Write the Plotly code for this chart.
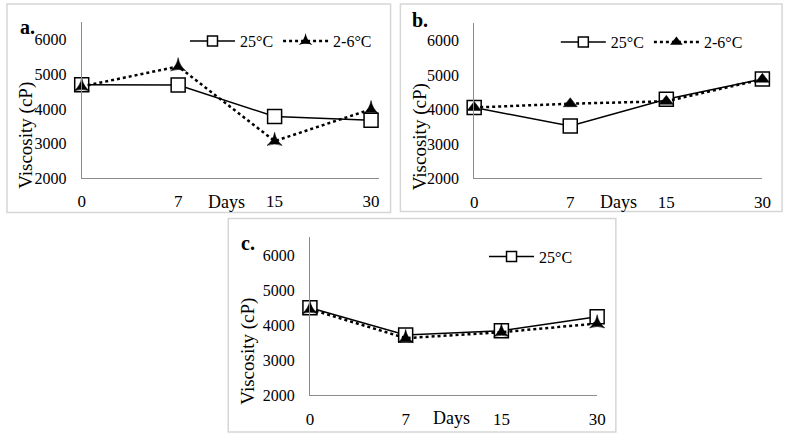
import plotly.graph_objects as go

# ---- data ----
days = ["0", "7", "15", "30"]
a_25 = [4700, 4690, 3780, 3670]
a_cold = [4650, 5230, 3070, 3990]
b_25 = [4060, 3520, 4300, 4890]
b_cold = [4060, 4170, 4240, 4880]
c_25 = [4500, 3720, 3840, 4240]
c_cold = [4460, 3630, 3800, 4050]
yticks = [2000, 3000, 4000, 5000, 6000]
panel_labels = ["a.", "b.", "c."]
series_names = ["25°C", "2-6°C"]

W, H = 795, 444
FONT = "Liberation Serif"


def px(x):
    return x / W


def py(y):
    return 1 - y / H


fig = go.Figure()

panels = [
    # (xaxis, yaxis, legend, s25, scold, cold_symbol, x0, x1, ytop, ybot, xmax, cold_in_legend)
    ("x", "y", "legend", a_25, a_cold, "star-triangle-up", 79, 381, 22, 181.7, 3.08, True),
    ("x2", "y2", "legend2", b_25, b_cold, "triangle-up", 478, 771, 23, 182, 3.0, True),
    ("x3", "y3", "legend3", c_25, c_cold, "star-triangle-up", 311, 603, 241.7, 403.3, 3.0, False),
]

for i, (xa, ya, lg, s25, scold, csym, x0, x1, yt, yb, xmax, cold_leg) in enumerate(panels):
    fig.add_trace(go.Scatter(
        x=days, y=s25, xaxis=xa, yaxis=ya, mode="lines+markers",
        line=dict(color="black", width=1.5),
        marker=dict(symbol="square", size=14, color="white", line=dict(color="black", width=1.5)),
        cliponaxis=False, showlegend=False,
    ))
    fig.add_trace(go.Scatter(
        x=days, y=scold, xaxis=xa, yaxis=ya, mode="lines+markers",
        line=dict(color="black", width=2.5, dash="dot"),
        marker=dict(symbol=csym, size=11 if csym != "triangle-up" else 12, color="black",
                    line=dict(color="black", width=0.5)),
        cliponaxis=False, showlegend=False,
    ))
    # legend entries (smaller markers, as in the reference)
    fig.add_trace(go.Scatter(
        x=[None], y=[None], xaxis=xa, yaxis=ya, mode="lines+markers", name=series_names[0],
        line=dict(color="black", width=1.5),
        marker=dict(symbol="square", size=10, color="white", line=dict(color="black", width=1.5)),
        legend=lg, showlegend=True,
    ))
    if cold_leg:
        fig.add_trace(go.Scatter(
            x=[None], y=[None], xaxis=xa, yaxis=ya, mode="lines+markers", name=series_names[1],
            line=dict(color="black", width=2.5, dash="dot"),
            marker=dict(symbol=csym, size=10 if csym != "triangle-up" else 11, color="black"),
            legend=lg, showlegend=True,
        ))

    sfx = "" if i == 0 else str(i + 1)
    fig.layout["xaxis" + sfx] = dict(
        domain=[px(x0), px(x1)], anchor=ya, type="category", range=[0, xmax],
        showline=True, linecolor="#8c8c8c", linewidth=1, showgrid=False, zeroline=False,
        ticks="", ticklabelstandoff=8, tickfont=dict(family=FONT, size=17, color="black"),
    )
    fig.layout["yaxis" + sfx] = dict(
        domain=[py(yb), py(yt)], anchor=xa, range=[2000, 6530],
        tickvals=yticks, showline=True, linecolor="#8c8c8c", linewidth=1,
        showgrid=False, zeroline=False, ticks="", ticklabelstandoff=11,
        tickfont=dict(family=FONT, size=16, color="black"),
    )

# panel frames
frames = [(3, 4, 393, 217), (403, 4, 791, 216), (228, 223, 622, 441)]
for (l, t, r, b) in frames:
    fig.add_shape(type="rect", xref="paper", yref="paper",
                  x0=px(l), x1=px(r), y0=py(b), y1=py(t),
                  line=dict(color="#d6d6d6", width=1.5), fillcolor="rgba(0,0,0,0)")

# annotations: panel letters, axis titles
ann = []
for lab, (x, y) in zip(panel_labels, [(24, 28), (423, 20), (248, 248)]):
    ann.append(dict(text="<b>%s</b>" % lab, x=px(x), y=py(y), font=dict(size=20)))
for (x, y) in [(226, 206), (625, 206), (455, 427)]:
    ann.append(dict(text="Days", x=px(x), y=py(y), font=dict(size=18)))
for (x, y) in [(23, 138), (423, 140), (248, 358)]:
    ann.append(dict(text="Viscosity (cP)", x=px(x), y=py(y), textangle=-90, font=dict(size=19)))
for a in ann:
    a.update(xref="paper", yref="paper", showarrow=False, xanchor="center", yanchor="middle")
    a["font"].update(family=FONT, color="black")
    fig.add_annotation(**a)

leg_common = dict(orientation="h", xanchor="left", yanchor="middle", bgcolor="rgba(0,0,0,0)",
                  font=dict(family=FONT, size=16, color="black"), itemwidth=45,
                  traceorder="normal")
fig.update_layout(
    width=W, height=H, margin=dict(l=0, r=0, t=0, b=0),
    paper_bgcolor="white", plot_bgcolor="white",
    font=dict(family=FONT, color="black"),
    legend=dict(x=px(184), y=py(42), **leg_common),
    legend2=dict(x=px(561), y=py(43), **leg_common),
    legend3=dict(x=px(488), y=py(262), **leg_common),
)

fig.write_html("out.html")
